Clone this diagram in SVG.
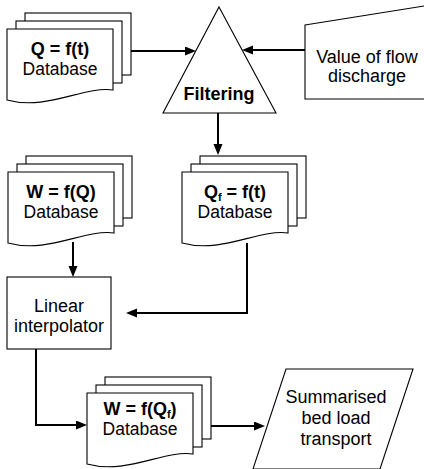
<svg xmlns="http://www.w3.org/2000/svg" xmlns:xlink="http://www.w3.org/1999/xlink" width="424" height="469" viewBox="0 0 424 469">
<style>
.shape{fill:#fff;stroke:#000;stroke-width:1.1}
.conn{fill:none;stroke:#000;stroke-width:2;marker-end:url(#arrow)}
text{font-family:"Liberation Sans",Arial,sans-serif;font-size:18px;fill:#000;text-anchor:middle}
.b{font-weight:bold}
.db{font-size:17.5px}
.sub{font-size:11px}
</style>
<defs>
<marker id="arrow" markerUnits="userSpaceOnUse" markerWidth="12" markerHeight="10" refX="8" refY="4.5" orient="auto">
<path d="M0,0 L11,4.5 L0,9 Z" fill="#000"/>
</marker>
<g id="docShape">
<rect class="shape" x="18" y="-16" width="106" height="62"/>
<rect class="shape" x="9" y="-8" width="106" height="62"/>
<path class="shape" d="M0,0 H106 V61 C76,57 40,82 0,71 Z"/>
</g>
</defs>

<g id="connectors">
<path class="conn" d="M131,51 H193"/>
<path class="conn" d="M305,50 H245"/>
<path class="conn" d="M218,113 V152"/>
<path class="conn" d="M73,242 V274"/>
<path class="conn" d="M247,243 V313 H129"/>
<path class="conn" d="M36,349 V425 H84"/>
<path class="conn" d="M211,426 H262"/>
</g>

<g id="db-qt">
<use xlink:href="#docShape" x="7" y="29"/>
<text class="b" x="60" y="55">Q = f(t)</text>
<text class="db" x="60" y="75">Database</text>
</g>

<g id="filtering">
<polygon class="shape" points="219,7 276,113 163,113"/>
<text class="b" x="219" y="100">Filtering</text>
</g>

<g id="flow-value">
<polygon class="shape" points="305,25 430,5 430,99 305,99"/>
<text x="367" y="63">Value of flow</text>
<text x="367" y="82">discharge</text>
</g>

<g id="db-wq">
<use xlink:href="#docShape" x="8" y="172"/>
<text class="b" x="61" y="198">W = f(Q)</text>
<text class="db" x="61" y="218">Database</text>
</g>

<g id="db-qf">
<use xlink:href="#docShape" x="182" y="172"/>
<text class="b" x="235" y="198">Q<tspan class="sub" dy="3">f</tspan><tspan dy="-3"> = f(t)</tspan></text>
<text class="db" x="235" y="218">Database</text>
</g>

<g id="interpolator">
<rect class="shape" x="7" y="277" width="104" height="72"/>
<text x="59" y="312">Linear</text>
<text x="59" y="332">interpolator</text>
</g>

<g id="db-wqf">
<use xlink:href="#docShape" x="87" y="393"/>
<text class="b" x="140" y="415">W = f(Q<tspan class="sub" dy="3">f</tspan><tspan dy="-3">)</tspan></text>
<text class="db" x="140" y="435">Database</text>
</g>

<g id="summary">
<polygon class="shape" points="286,369 413,369 380,469 253,469"/>
<text x="336" y="403">Summarised</text>
<text x="336" y="424">bed load</text>
<text x="336" y="445">transport</text>
</g>
</svg>
